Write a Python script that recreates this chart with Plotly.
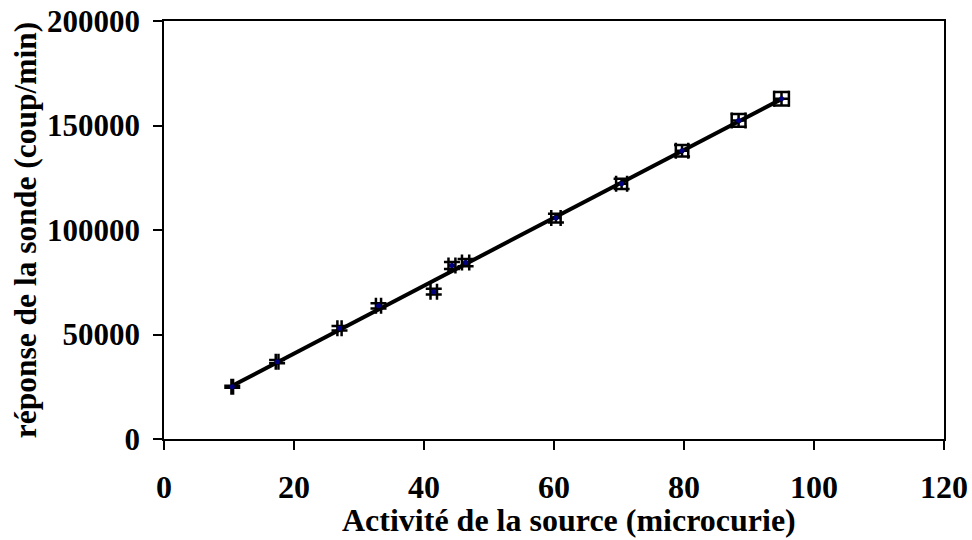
import numpy as np
import plotly.graph_objects as go

# Data
activite = [10.5, 17.4, 27.0, 33.0, 41.5, 44.3, 46.4, 60.3, 70.4, 79.7, 88.4, 95.0]
reponse = [25000, 37000, 53000, 63700, 70500, 83000, 84400, 105700, 122100, 137900, 152400, 162800]
err_x_pct = 1.2
err_y_pct = 2.0

x_ticks = [0, 20, 40, 60, 80, 100, 120]
y_ticks = [0, 50000, 100000, 150000, 200000]

# Linear trend line (least squares) over data range
a, b = np.polyfit(activite, reponse, 1)
x_fit = [min(activite), max(activite)]
y_fit = [a * v + b for v in x_fit]

FONT = "Liberation Serif"

fig = go.Figure()
fig.add_trace(go.Scatter(
    x=x_fit, y=y_fit, mode="lines",
    line=dict(color="black", width=4),
    showlegend=False, hoverinfo="skip",
))
fig.add_trace(go.Scatter(
    x=activite, y=reponse, mode="markers",
    marker=dict(symbol="circle", size=5, color="#000080"),
    error_x=dict(type="percent", value=err_x_pct, color="black", thickness=2.5, width=8),
    error_y=dict(type="percent", value=err_y_pct, color="black", thickness=2.5, width=8),
    showlegend=False,
))

fig.add_annotation(
    text="<b>Activité de la source (microcurie)</b>",
    xref="paper", yref="paper", x=0.519, y=-0.194,
    xanchor="center", yanchor="middle", showarrow=False,
    font=dict(family=FONT, size=32, color="black"),
)

fig.update_layout(
    width=972, height=540,
    margin=dict(l=164, r=28, t=21, b=101),
    paper_bgcolor="white", plot_bgcolor="white",
    font=dict(family=FONT, color="black"),
    xaxis=dict(
        range=[0, 120], tickvals=x_ticks, ticktext=[str(v) for v in x_ticks],
        showgrid=False, zeroline=False, automargin=False,
        showline=True, linecolor="black", linewidth=2, mirror=True,
        ticks="outside", ticklen=9, tickwidth=1.5, tickcolor="black",
        tickfont=dict(family=FONT, size=32, color="black", weight="bold"),
        ticklabelstandoff=10,
    ),
    yaxis=dict(
        range=[0, 200000], tickvals=y_ticks, ticktext=[str(v) for v in y_ticks],
        showgrid=False, zeroline=False, automargin=False,
        showline=True, linecolor="black", linewidth=1.5, mirror=True,
        ticks="outside", ticklen=9, tickwidth=1.5, tickcolor="black",
        tickfont=dict(family=FONT, size=31, color="black", weight="bold"),
        ticklabelstandoff=7,
        title=dict(text="<b>réponse de la sonde (coup/min)</b>",
                   font=dict(family=FONT, size=31.5, color="black"), standoff=1),
    ),
)

fig.write_html("out.html")
